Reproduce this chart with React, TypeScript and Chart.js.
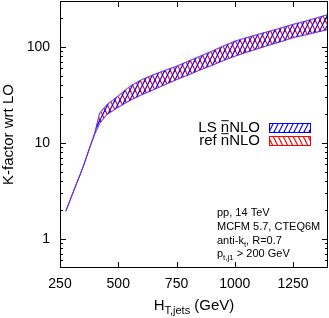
import React, { useEffect, useRef } from 'react';
import { Chart, registerables } from 'chart.js';
Chart.register(...registerables);

const htValues = [275, 300, 325, 350, 375, 400, 420, 450, 500, 550, 600, 650, 700, 750, 800, 850, 900, 950, 1000, 1050, 1100, 1150, 1200, 1250, 1300, 1350, 1400];
const lsUpper = [1.95, 2.8, 4.0, 5.7, 8.6, 13.0, 20.5, 25, 31, 39, 45.7, 51.3, 57, 63, 71, 80, 90, 102, 115, 125, 135, 146, 158, 172, 185, 200, 218];
const lsLower = [1.95, 2.8, 4.0, 5.7, 8.6, 12.5, 16, 19.7, 23.6, 27.7, 31.8, 35.7, 40.5, 45.7, 51, 57.5, 64, 72, 80, 88, 96, 105, 114, 125, 133, 142, 152];
const refUpper = [1.95, 2.8, 4.0, 5.7, 8.6, 12.8, 20, 24.6, 30.5, 38.5, 45, 50.8, 56.5, 62.5, 70.5, 79, 89, 101, 113, 124, 134, 145, 157, 170, 183, 198, 216];
const refLower = [1.95, 2.8, 4.0, 5.7, 8.6, 12.4, 15.8, 19.5, 23.4, 27.5, 31.5, 35.5, 40.2, 45.3, 50.6, 57, 63.5, 71.5, 79.5, 87.5, 95.5, 104, 113, 124, 132, 141, 151];

const yTicks = [1, 10, 100];
const yMinorTicks = [0.5, 0.6, 0.7, 0.8, 0.9, 2, 3, 4, 5, 6, 7, 8, 9, 20, 30, 40, 50, 60, 70, 80, 90, 200, 300];
const xTicks = [250, 500, 750, 1000, 1250];
const seriesLabels = ['LS n\u0304NLO', 'ref n\u0304NLO'];
const yTitle = 'K-factor wrt LO';
// rich text: [text, subscript?]
const xTitle: [string, boolean][] = [['H', false], ['T,jets', true], [' (GeV)', false]];
const infoLines: [string, boolean][][] = [
  [['pp, 14 TeV', false]],
  [['MCFM 5.7, CTEQ6M', false]],
  [['anti-k', false], ['t', true], [', R=0.7', false]],
  [['p', false], ['t,j1', true], [' > 200 GeV', false]],
];

const FONT = '"Liberation Sans", Arial, Helvetica, sans-serif';

function makeHatch(color: string, dir: number): CanvasPattern | string {
  const w = 5, h = 10;
  const c = document.createElement('canvas');
  c.width = w; c.height = h;
  const g = c.getContext('2d');
  if (!g) return color;
  g.strokeStyle = color;
  g.lineWidth = 1.2;
  for (const off of [-w, 0, w]) {
    g.beginPath();
    if (dir > 0) { g.moveTo(off, h); g.lineTo(off + w, 0); }
    else { g.moveTo(off, 0); g.lineTo(off + w, h); }
    g.stroke();
  }
  return g.createPattern(c, 'repeat') || color;
}

function drawRich(ctx: CanvasRenderingContext2D, parts: [string, boolean][], x: number, y: number, size: number, align: 'left' | 'center') {
  const subSize = Math.round(size * 0.72);
  let total = 0;
  for (const [t, sub] of parts) {
    ctx.font = `${sub ? subSize : size}px ${FONT}`;
    total += ctx.measureText(t).width;
  }
  let cx = align === 'center' ? x - total / 2 : x;
  ctx.textBaseline = 'alphabetic';
  ctx.textAlign = 'left';
  for (const [t, sub] of parts) {
    ctx.font = `${sub ? subSize : size}px ${FONT}`;
    ctx.fillText(t, cx, sub ? y + size * 0.28 : y);
    cx += ctx.measureText(t).width;
  }
}

// draws text, rendering combining macron (U+0304) as an overline of the previous char
function drawOverlined(ctx: CanvasRenderingContext2D, text: string, xRight: number, yMid: number, size: number) {
  ctx.font = `${size}px ${FONT}`;
  const plain = text.replace(/\u0304/g, '');
  const total = ctx.measureText(plain).width;
  let cx = xRight - total;
  ctx.textBaseline = 'middle';
  ctx.textAlign = 'left';
  const chars = Array.from(text);
  for (let i = 0; i < chars.length; i++) {
    const ch = chars[i];
    if (ch === '\u0304') continue;
    const w = ctx.measureText(ch).width;
    ctx.fillText(ch, cx, yMid);
    if (chars[i + 1] === '\u0304') {
      ctx.fillRect(cx + 0.5, yMid - size * 0.52, w - 1, 1);
    }
    cx += w;
  }
}

const decorPlugin = {
  id: 'decor',
  afterDraw(chart: any) {
    const { ctx, chartArea: a, scales } = chart;
    const xs = scales.x, ys = scales.y;
    ctx.save();
    ctx.strokeStyle = '#000';
    ctx.fillStyle = '#000';
    ctx.lineWidth = 1;
    // frame
    ctx.strokeRect(Math.round(a.left) + 0.5, Math.round(a.top) + 0.5, Math.round(a.right - a.left) - 1, Math.round(a.bottom - a.top) - 1);
    // inward ticks
    ctx.beginPath();
    for (const v of yTicks) {
      const p = Math.round(ys.getPixelForValue(v)) + 0.5;
      ctx.moveTo(a.left, p); ctx.lineTo(a.left + 6, p);
      ctx.moveTo(a.right, p); ctx.lineTo(a.right - 6, p);
    }
    for (const v of yMinorTicks) {
      const p = Math.round(ys.getPixelForValue(v)) + 0.5;
      if (p < a.top + 2 || p > a.bottom - 2) continue;
      ctx.moveTo(a.left, p); ctx.lineTo(a.left + 3, p);
      ctx.moveTo(a.right, p); ctx.lineTo(a.right - 3, p);
    }
    for (const v of xTicks) {
      const p = Math.round(xs.getPixelForValue(v)) + 0.5;
      if (p < a.left + 2) continue;
      ctx.moveTo(p, a.bottom); ctx.lineTo(p, a.bottom - 6);
      ctx.moveTo(p, a.top); ctx.lineTo(p, a.top + 6);
    }
    ctx.stroke();

    // legend
    const ds = chart.data.datasets;
    const legendItems = [
      { label: seriesLabels[0], fill: ds[0].backgroundColor, border: '#0000ff', y: 128 },
      { label: seriesLabels[1], fill: ds[2].backgroundColor, border: '#ff0000', y: 141 },
    ];
    for (const it of legendItems) {
      ctx.fillStyle = '#000';
      drawOverlined(ctx, it.label, 260, it.y, 15);
      ctx.fillStyle = it.fill;
      ctx.fillRect(269, it.y - 5, 42, 10);
      ctx.strokeStyle = it.border;
      ctx.strokeRect(269.5, it.y - 4.5, 41, 9);
    }

    // info text
    ctx.fillStyle = '#000';
    const lineYs = [216, 230, 243.5, 257];
    infoLines.forEach((ln, i) => drawRich(ctx, ln, 217, lineYs[i], 11, 'left'));

    // x title
    drawRich(ctx, xTitle, (a.left + a.right) / 2, 310, 15, 'center');
    ctx.restore();
  },
};

export default function App() {
  const ref = useRef<HTMLCanvasElement>(null);
  useEffect(() => {
    document.body.style.margin = '0';
    const canvas = ref.current!;
    const blueHatch = makeHatch('#0000ff', 1);
    const redHatch = makeHatch('#ff0000', -1);
    const pts = (ys: number[]) => htValues.map((x, i) => ({ x, y: ys[i] }));
    const chart = new Chart(canvas, {
      type: 'line',
      data: {
        datasets: [
          { label: seriesLabels[0], data: pts(lsUpper), borderColor: 'rgba(70,50,255,0.85)', borderWidth: 1, pointRadius: 0, fill: '+1', backgroundColor: blueHatch as any, tension: 0 },
          { label: seriesLabels[0] + ' low', data: pts(lsLower), borderColor: 'rgba(70,50,255,0.85)', borderWidth: 1, pointRadius: 0, fill: false, tension: 0 },
          { label: seriesLabels[1], data: pts(refUpper), borderColor: 'rgba(255,0,0,0.45)', borderWidth: 1, pointRadius: 0, fill: '+1', backgroundColor: redHatch as any, tension: 0 },
          { label: seriesLabels[1] + ' low', data: pts(refLower), borderColor: 'rgba(255,0,0,0.45)', borderWidth: 1, pointRadius: 0, fill: false, tension: 0 },
        ],
      },
      options: {
        animation: false,
        responsive: false,
        layout: { padding: { top: 1, right: 1, left: 0, bottom: 0 } },
        plugins: { legend: { display: false }, tooltip: { enabled: false } },
        scales: {
          x: {
            type: 'linear',
            min: 250,
            max: 1400,
            grid: { display: false, drawTicks: false },
            border: { display: false },
            afterBuildTicks: (axis: any) => { axis.ticks = xTicks.map((v) => ({ value: v })); },
            afterFit: (axis: any) => { axis.height = 50; axis.paddingLeft = 0; axis.paddingRight = 0; },
            ticks: { color: '#000', padding: 8, font: { family: FONT, size: 14 }, maxRotation: 0, callback: (v: any) => String(v) },
          },
          y: {
            type: 'logarithmic',
            min: 0.5,
            max: 300,
            grid: { display: false, drawTicks: false },
            border: { display: false },
            afterBuildTicks: (axis: any) => { axis.ticks = yTicks.map((v) => ({ value: v })); },
            afterFit: (axis: any) => { axis.width = 60; axis.paddingTop = 0; axis.paddingBottom = 0; },
            ticks: { color: '#000', padding: 10, font: { family: FONT, size: 14 }, callback: (v: any) => String(v) },
            title: { display: true, text: yTitle, color: '#000', font: { family: FONT, size: 15 }, padding: { top: 0, bottom: 0 } },
          },
        },
      },
      plugins: [decorPlugin],
    });
    return () => chart.destroy();
  }, []);
  return (
    <div style={{ position: 'absolute', left: 0, top: 0, width: 329, height: 318 }}>
      <canvas ref={ref} width={329} height={318} />
    </div>
  );
}
